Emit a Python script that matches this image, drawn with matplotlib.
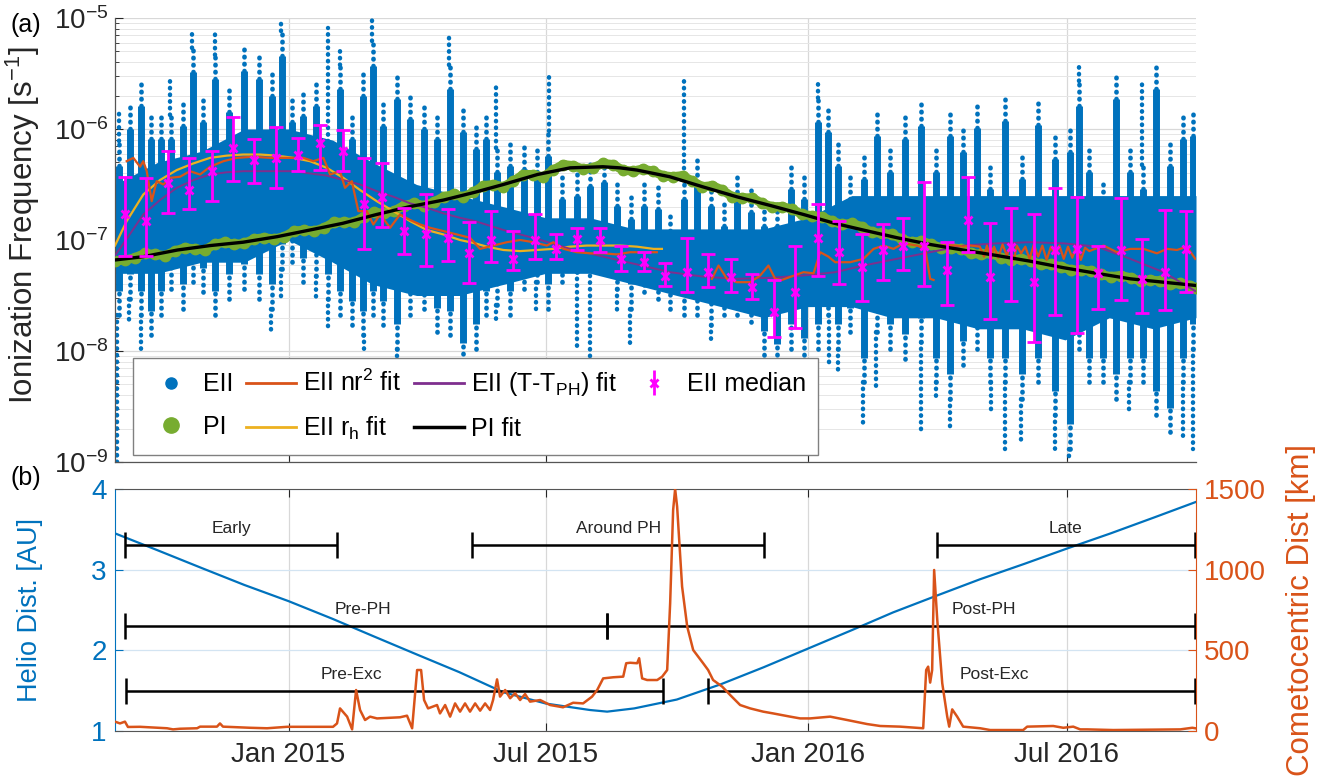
import numpy as np
import matplotlib
matplotlib.use('Agg')
import matplotlib.pyplot as plt
import matplotlib.dates as mdates
from matplotlib.lines import Line2D

plt.rcParams['font.family'] = ['Liberation Sans', 'DejaVu Sans']
plt.rcParams['mathtext.fontset'] = 'custom'
plt.rcParams['mathtext.rm'] = 'Liberation Sans'
plt.rcParams['mathtext.it'] = 'Liberation Sans:italic'
plt.rcParams['mathtext.bf'] = 'Liberation Sans:bold'
plt.rcParams['mathtext.default'] = 'regular'

# ---------------- data (days counted from 2014-09-01) ----------------
START = '2014-09-01'
X_END_DAY = 760

# EII cloud: dense core (monthly), log10 values
core_day = [0, 30, 61, 91, 122, 153, 181, 212, 242, 273, 303, 334, 365, 395, 426, 456,
            487, 518, 546, 577, 607, 638, 668, 699, 730, 760]
core_hi = [-6.5, -6.3, -6.2, -6.0, -6.0, -6.1, -6.3, -6.5, -6.6, -6.7, -6.8, -6.8, -6.9, -6.9,
           -6.9, -6.9, -6.8, -6.6, -6.6, -6.6, -6.6, -6.6, -6.6, -6.6, -6.6, -6.6]
core_lo = [-7.3, -7.3, -7.2, -7.2, -7.0, -7.2, -7.4, -7.5, -7.5, -7.4, -7.3, -7.3, -7.4, -7.5,
           -7.6, -7.7, -7.6, -7.6, -7.7, -7.7, -7.8, -7.8, -7.9, -7.7, -7.8, -7.7]

# EII cloud: spike columns (~9-day chunks), log10 top / bottom
chunk_day = [3, 10.5, 18.5, 25.5, 32.5, 39.5, 47.5, 54.5, 62, 70.5, 80, 90.5, 101, 110.5, 117.5,
             124.5, 132.5, 141.5, 150, 158.5, 166.5, 174.5, 181.5, 188.5, 198, 207.5, 217, 226.5,
             235.5, 245, 253.5, 260.5, 268.5, 278, 287.5, 296.5, 304.5, 314, 324.5, 334, 343.5,
             353, 362.5, 372, 381.5, 390.5, 400, 409.5, 419, 428.5, 437.5, 447, 456.5, 465.5,
             475, 484.5, 494, 501.5, 508, 517, 526.5, 535.5, 545, 555.5, 567, 577.5, 587, 596.5,
             606, 615.5, 626, 637.5, 649, 661, 671.5, 678, 685, 694.5, 704, 713.5, 722.5, 732,
             741.5, 751, 758]
chunk_top = [-6.11, -5.78, -5.57, -5.87, -5.87, -5.87, -5.75, -5.27, -5.72, -5.33, -5.63, -5.26,
             -5.33, -5.48, -5.12, -5.72, -5.66, -5.57, -6.17, -5.42, -5.87, -5.48, -5.21, -5.75,
             -5.51, -5.69, -5.78, -5.87, -5.42, -5.81, -5.96, -5.87, -6.17, -6.11, -6.14, -6.17,
             -6.02, -6.41, -6.38, -6.29, -6.26, -6.47, -6.59, -6.47, -6.50, -6.77, -6.41, -6.26,
             -6.47, -6.65, -6.41, -6.53, -6.65, -6.65, -6.32, -6.41, -5.72, -5.81, -6.11, -6.41,
             -6.23, -5.84, -6.17, -5.87, -5.75, -6.17, -5.84, -5.99, -5.77, -6.32, -5.71, -6.23,
             -5.74, -6.05, -5.99, -5.57, -6.17, -6.47, -5.51, -6.17, -6.32, -5.42, -6.11, -5.87,
             -5.84]
chunk_bot = [-7.68, -7.53, -7.68, -7.86, -7.68, -7.44, -7.62, -7.38, -7.47, -7.68, -7.53, -7.44,
             -7.53, -7.62, -7.26, -7.20, -7.38, -7.32, -7.53, -7.68, -7.77, -7.86, -7.68, -7.77,
             -7.98, -7.68, -7.62, -7.83, -7.86, -8.15, -7.98, -7.68, -7.59, -7.68, -7.44, -7.38,
             -7.62, -7.38, -7.29, -7.26, -7.26, -7.44, -7.62, -7.47, -7.53, -7.62, -7.68, -7.68,
             -7.77, -7.68, -7.68, -7.74, -8.04, -8.16, -7.98, -8.10, -7.98, -7.68, -7.98, -7.83,
             -8.28, -7.83, -7.98, -8.07, -7.92, -8.28, -8.43, -8.13, -7.98, -8.28, -8.28, -8.43,
             -8.28, -8.58, -8.88, -7.98, -8.28, -8.28, -8.43, -8.28, -8.28, -8.58, -8.73, -8.28,
             -7.98]

# EII cloud: sparse dotted columns (day, from, to), log10
sparse_up_day = [3, 39, 54, 70, 117, 150, 158, 181, 235, 268, 305, 400, 494, 678, 722]
sparse_up_from = [-6.11, -5.87, -5.27, -5.33, -5.12, -6.17, -5.42, -5.21, -5.42, -6.17, -6.02,
                  -6.41, -5.72, -5.57, -6.32]
sparse_up_to = [-5.81, -5.54, -5.09, -5.12, -5.03, -5.09, -5.27, -5.00, -5.15, -5.59, -5.52,
                -5.56, -5.55, -5.41, -5.59]
sparse_dn_day = [1.5, 10, 18, 110, 117, 141, 150, 175, 198, 268, 296, 325, 334, 353, 362, 419,
                 502, 508, 526, 535, 567, 577, 587, 616, 626, 637, 661, 671, 713, 751, 758]
sparse_dn_from = [-7.68, -7.53, -7.68, -7.62, -7.26, -7.32, -7.53, -7.86, -7.98, -7.59, -7.38,
                  -7.29, -7.26, -7.44, -7.62, -7.77, -7.68, -7.98, -8.28, -7.83, -7.92, -8.28,
                  -8.43, -8.28, -8.28, -8.43, -8.58, -8.88, -8.28, -8.28, -7.98]
sparse_dn_to = [-9.0, -7.74, -7.98, -7.83, -7.56, -7.56, -7.80, -7.98, -8.13, -7.74, -7.62,
                -7.98, -8.07, -7.68, -7.98, -7.89, -8.13, -8.22, -8.67, -8.34, -8.76, -8.43,
                -8.73, -8.58, -8.88, -8.82, -8.94, -9.0, -8.58, -8.82, -8.88]

# PI (photo-ionization), weekly, log10
pi_day = [0, 7, 14, 21, 28, 35, 42, 49, 56, 63, 70, 77, 84, 91, 98, 105, 112, 119, 126, 133,
          140, 147, 154, 161, 168, 175, 182, 189, 196, 203, 210, 217, 224, 231, 238, 245, 252,
          259, 266, 273, 280, 287, 294, 301, 308, 315, 322, 329, 336, 343, 350, 357, 364, 371,
          378, 385, 392, 399, 406, 413, 420, 427, 434, 441, 448, 455, 462, 469, 476, 483, 490,
          497, 504, 511, 518, 525, 532, 539, 546, 553, 560, 567, 574, 581, 588, 595, 602, 609,
          616, 623, 630, 637, 644, 651, 658, 665, 672, 679, 686, 693, 700, 707, 714, 721, 728,
          735, 742, 749, 756, 760]
pi_log = [-7.19, -7.18, -7.16, -7.12, -7.13, -7.14, -7.10, -7.07, -7.08, -7.09, -7.04, -7.02,
          -7.04, -7.03, -6.99, -6.98, -6.99, -6.97, -6.92, -6.91, -6.92, -6.89, -6.84, -6.84,
          -6.84, -6.79, -6.75, -6.76, -6.74, -6.69, -6.67, -6.69, -6.66, -6.61, -6.59, -6.61,
          -6.57, -6.51, -6.50, -6.52, -6.47, -6.41, -6.41, -6.43, -6.37, -6.32, -6.33, -6.36,
          -6.35, -6.31, -6.32, -6.37, -6.38, -6.36, -6.38, -6.42, -6.43, -6.42, -6.47, -6.52,
          -6.51, -6.55, -6.61, -6.62, -6.62, -6.67, -6.70, -6.70, -6.72, -6.77, -6.78, -6.79,
          -6.83, -6.86, -6.85, -6.88, -6.93, -6.94, -6.95, -6.99, -7.02, -7.01, -7.04, -7.07,
          -7.07, -7.08, -7.12, -7.13, -7.12, -7.16, -7.18, -7.17, -7.19, -7.22, -7.22, -7.24,
          -7.27, -7.27, -7.28, -7.31, -7.33, -7.32, -7.34, -7.37, -7.36, -7.37, -7.40, -7.39,
          -7.41, -7.43]

# PI fit, log10
pifit_day = [0, 20, 44, 67, 90, 114, 137, 160, 184, 207, 231, 253, 273, 297, 320, 343, 355,
             367, 390, 413, 437, 461, 484, 506, 526, 550, 573, 596, 620, 643, 667, 690, 714,
             737, 760]
pifit_log = [-7.18, -7.15, -7.09, -7.05, -7.02, -6.97, -6.91, -6.85, -6.77, -6.70, -6.64, -6.57,
             -6.50, -6.41, -6.35, -6.34, -6.35, -6.37, -6.43, -6.52, -6.61, -6.69, -6.77, -6.85,
             -6.91, -6.98, -7.04, -7.09, -7.14, -7.19, -7.25, -7.30, -7.35, -7.38, -7.41]

# EII r_h fit, log10
rh_day = [0, 8.2, 19.9, 31.6, 43.4, 55.1, 66.8, 78.5, 90.2, 102, 113.7, 125.4, 137.1, 148.9,
          160.5, 172.3, 184, 195.7, 207.5, 219.2, 230.9, 242.6, 253.2, 261.4, 273.1, 284.8,
          296.6, 308.2, 320, 331.7, 343.4, 355.1, 366.9, 378.6, 384.5]
rh_log = [-7.05, -6.83, -6.59, -6.46, -6.37, -6.31, -6.26, -6.24, -6.23, -6.23, -6.24, -6.26,
          -6.29, -6.35, -6.44, -6.55, -6.65, -6.74, -6.83, -6.91, -6.95, -7.00, -7.03, -7.06,
          -7.09, -7.10, -7.09, -7.08, -7.06, -7.05, -7.05, -7.05, -7.06, -7.08, -7.08]

# EII (T-T_PH) fit, log10
tph_day = [0, 8.2, 19.9, 31.6, 43.4, 55.1, 66.8, 78.5, 90.2, 102, 113.7, 125.4, 137.1, 148.9,
           160.5, 172.3, 184, 195.7, 207.5, 219.2, 230.9, 242.6, 253.2, 273.1, 296.6, 320,
           343.4, 366.9, 390.3, 413.7, 437.2, 460.6, 484, 506.3, 526.2, 549.6, 573.1, 596.6,
           620, 643.5, 667, 690.4, 713.8, 737.2, 759.5]
tph_log = [-7.14, -6.99, -6.77, -6.64, -6.53, -6.46, -6.41, -6.39, -6.38, -6.38, -6.38, -6.38,
           -6.40, -6.42, -6.46, -6.50, -6.56, -6.61, -6.67, -6.71, -6.76, -6.80, -6.83, -6.91,
           -6.99, -7.08, -7.15, -7.22, -7.29, -7.33, -7.35, -7.34, -7.32, -7.29, -7.23, -7.17,
           -7.11, -7.05, -7.03, -7.02, -7.03, -7.06, -7.17, -7.29, -7.46]

# EII n r^2 fit, log10 (nan = gap)
nr2_day = [8.2, 12.9, 17.6, 19.9, 22.3, 25.8, 29.3, 34.0, 38.7, 45.7, 52.7, 59.8, 66.8, 76.2,
           85.6, 97.3, 109, 120.7, 132.4, 139.5, 146.5, 151.2, 158.2, 161.7, 166.5, 171.1, 177,
           181.6, 186.4, 193.4, 200.4, 207.5, 214.5, 221.5, 230.9, 240.3, 249.6, 256.7, 266,
           275.5, 284.8, 294.2, 303.6, 308.2, 315.3, 324.7, 334, 343.4, 352.8, 362.2, 371.5,
           380.9, 400,
           419.6, 424.3, 430.2, 437.2, 446.6, 453.6, 459.4, 464.1, 468.8, 484, 491.1, 495.8,
           501.6, 506.3, 509.8, 516.9, 526.2, 533.3, 540.3, 547.3, 554.4, 563.8, 569.6, 573.1,
           575.5, 578,
           580.2, 591.9, 596.6, 601.3, 608, 611, 613, 616, 618, 621, 624, 627, 629, 632, 634,
           637, 640, 643, 646, 649, 652, 655, 658, 661, 664, 667, 670, 673, 676, 679, 682, 685,
           695, 704.4, 713.8, 723.1, 732.5, 739.6, 746.6, 753.6, 759.5]
nr2_log = [-6.29, -6.26, -6.34, -6.29, -6.38, -6.65, -6.47, -6.50, -6.44, -6.43, -6.38, -6.41,
           -6.34, -6.29, -6.26, -6.25, -6.26, -6.26, -6.26, -6.29, -6.26, -6.41, -6.38, -6.53,
           -6.47, -6.74, -6.74, -6.86, -6.77, -6.89, -6.77, -6.82, -6.86, -6.89, -6.92, -6.95,
           -6.98, -7.08, -7.05, -7.02, -7.00, -7.02, -7.05, -7.02, -7.08, -7.11, -7.12, -7.12,
           -7.13, -7.11, -7.11, -7.11, np.nan,
           -7.35, -7.23, -7.35, -7.38, -7.38, -7.32, -7.23, -7.35, -7.36, -7.29, -7.30, -7.11,
           -7.15, -7.20, -7.20, -7.20, -7.17, -7.08, -7.05, -7.08, -7.03, -7.05, -7.08, -7.35,
           -7.36, np.nan,
           -7.05, -7.05, -7.06, -7.05, -7.06, -7.15, -7.05, -7.17, -7.06, -7.16, -7.04, -7.14,
           -7.07, -7.18, -7.05, -7.12, -7.06, -7.17, -7.04, -7.15, -7.05, -7.18, -7.06, -7.14,
           -7.05, -7.17, -7.06, -7.16, -7.05, -7.18, -7.07, -7.10,
           -7.05, -7.11, -7.08, -7.08, -7.12, -7.08, -7.09, -7.06, -7.17]

# EII semi-monthly medians with spread, log10
med_date = ['2014-09-08', '2014-09-23', '2014-10-08', '2014-10-23', '2014-11-08', '2014-11-23',
            '2014-12-08', '2014-12-23', '2015-01-08', '2015-01-23', '2015-02-08', '2015-02-23',
            '2015-03-08', '2015-03-23', '2015-04-08', '2015-04-23', '2015-05-08', '2015-05-23',
            '2015-06-08', '2015-06-23', '2015-07-08', '2015-07-23', '2015-08-08', '2015-08-23',
            '2015-09-08', '2015-09-23', '2015-10-08', '2015-10-23', '2015-11-08', '2015-11-23',
            '2015-12-08', '2015-12-23', '2016-01-08', '2016-01-23', '2016-02-08', '2016-02-23',
            '2016-03-08', '2016-03-23', '2016-04-08', '2016-04-23', '2016-05-08', '2016-05-23',
            '2016-06-08', '2016-06-23', '2016-07-08', '2016-07-23', '2016-08-08', '2016-08-23',
            '2016-09-08', '2016-09-23']
med_c = [-6.77, -6.83, -6.49, -6.55, -6.38, -6.17, -6.28, -6.26, -6.23, -6.13, -6.20, -6.68,
         -6.61, -6.92, -6.95, -6.98, -7.12, -7.00, -7.17, -7.00, -7.08, -6.99, -7.00, -7.17,
         -7.20, -7.32, -7.29, -7.29, -7.33, -7.42, -7.65, -7.47, -6.98, -7.11, -7.24, -7.09,
         -7.05, -7.05, -7.27, -6.82, -7.33, -7.06, -7.38, -7.09, -7.08, -7.30, -7.09, -7.35,
         -7.29, -7.08]
med_hi = [-6.43, -6.44, -6.20, -6.26, -6.20, -5.89, -6.09, -5.98, -6.08, -5.96, -6.01, -6.26,
          -6.31, -6.71, -6.59, -6.72, -6.84, -6.74, -6.92, -6.77, -6.95, -6.89, -6.89, -7.05,
          -7.11, -7.21, -6.98, -7.13, -7.17, -7.31, -7.36, -7.05, -6.68, -6.83, -6.95, -6.86,
          -6.80, -6.48, -7.02, -6.43, -6.85, -6.71, -6.77, -6.53, -6.61, -7.05, -6.62, -6.99,
          -6.73, -6.74]
med_lo = [-7.14, -7.14, -6.76, -6.72, -6.65, -6.47, -6.49, -6.53, -6.38, -6.37, -6.38, -7.08,
          -6.88, -7.13, -7.23, -7.19, -7.39, -7.20, -7.27, -7.17, -7.17, -7.09, -7.11, -7.28,
          -7.28, -7.41, -7.47, -7.42, -7.47, -7.53, -7.87, -7.79, -7.32, -7.40, -7.55, -7.36,
          -7.27, -7.41, -7.59, -7.11, -7.71, -7.55, -7.92, -7.68, -7.84, -7.62, -7.54, -7.66,
          -7.63, -7.47]

# Panel (b): heliocentric distance [AU]
helio_day = [0, 30, 61, 91, 122, 153, 181, 212, 242, 273, 303, 334, 346, 365, 395, 426, 456,
             487, 518, 547, 578, 608, 639, 669, 700, 731, 760]
helio_au = [3.45, 3.24, 3.02, 2.81, 2.61, 2.39, 2.18, 1.95, 1.73, 1.48, 1.34, 1.26, 1.24, 1.28,
            1.39, 1.58, 1.79, 2.02, 2.25, 2.47, 2.68, 2.88, 3.07, 3.26, 3.45, 3.65, 3.84]

# Panel (b): cometocentric distance [km]
comet_day = [0, 3.5, 7.0, 9.1, 17.6, 36.6, 40.8, 45.7, 57.7, 59.8, 71.7, 73.8, 75.9, 94.9,
             106.9, 121.0, 153.3, 156.1, 158.2, 163.2, 166.7, 169.5, 172.3, 175.8, 179.3, 184.2,
             200.4, 205.3, 208.9, 212.4, 215.2, 217.3, 220.1, 226.4, 228.5, 232.1, 235.6, 239.1,
             242.6, 246.1, 249.6, 253.2, 256.7, 260.2, 263.7, 265.8, 268.6, 270.7, 274.3, 277.8,
             281.3, 284.8, 288.3, 291.8, 298.9, 305.9, 315.0, 322.1, 329.1, 335.4, 339.0, 343.2,
             350.2, 357.3, 359.4, 362.2, 367.1, 368.5, 370.6, 374.1, 381.2, 384.7, 388.2, 390.3,
             392.4, 393.8, 395.2, 398.7, 402.3, 406.5, 413.5, 417.0, 420.5, 426.9, 432.5, 439.5,
             446.6, 455.7, 462.7, 474.7, 481.7, 488.7, 502.8, 514.8, 528.8, 538.0, 552.0, 568.2,
             570.3, 571.7, 573.1, 574.5, 575.9, 578.1, 581.6, 585.1, 586.5, 588.6, 592.1, 596.3,
             608.3, 615.3, 638.5, 641.3, 659.6, 666.7, 673.7, 678.6, 683.5, 701.8, 748.9, 757.4,
             759.5]
comet_km = [58, 47, 58, 25, 26, 17, 10, 14, 17, 27, 27, 47, 27, 20, 17, 26, 26, 47, 140, 89, 10,
            254, 130, 68, 89, 78, 85, 95, 17, 378, 378, 192, 140, 161, 109, 161, 89, 171, 120,
            171, 120, 171, 126, 171, 130, 192, 320, 213, 254, 203, 234, 192, 229, 182, 192, 161,
            147, 175, 171, 213, 254, 326, 333, 337, 420, 423, 420, 451, 326, 316, 316, 337, 378,
            792, 1370, 1500, 1391, 895, 647, 502, 420, 378, 316, 275, 223, 161, 140, 120, 109,
            89, 78, 78, 89, 68, 43, 31, 27, 17, 378, 399, 300, 378, 998, 688, 296, 89, 27, 134,
            89, 27, 17, 6, 6, 27, 31, 20, 27, 10, 10, 6, 10, 20, 17]

# Panel (b): campaign intervals
period_names = ['Early', 'Around PH', 'Late', 'Pre-PH', 'Post-PH', 'Pre-Exc', 'Post-Exc']
period_start = ['2014-09-08', '2015-05-10', '2016-04-01', '2014-09-08', '2015-08-13',
                '2014-09-09', '2015-10-23']
period_end = ['2015-02-04', '2015-12-01', '2016-09-29', '2015-08-13', '2016-09-29',
              '2015-09-21', '2016-09-29']
period_level = [3.31, 3.31, 3.31, 2.30, 2.30, 1.50, 1.50]
period_label_date = ['2014-11-22', '2015-08-21', '2016-06-30', '2015-02-22', '2016-05-04',
                     '2015-02-14', '2016-05-11']

tick_dates = ['2015-01-01', '2015-07-01', '2016-01-01', '2016-07-01']
tick_labels = ['Jan 2015', 'Jul 2015', 'Jan 2016', 'Jul 2016']

# ---------------- helpers ----------------
T0 = mdates.date2num(np.datetime64(START))


def dnum(days):
    return T0 + np.asarray(days, dtype=float)


def snum(dates):
    return mdates.date2num(np.array(dates, dtype='datetime64[D]'))


def p10(v):
    return 10.0 ** np.asarray(v, dtype=float)


BLUE = '#0072BD'
ORANGE = '#D95319'
YELLOW = '#EDB120'
PURPLE = '#7E2F8E'
GREEN = '#77AC30'
MAG = '#FF00FF'
AXC = '#262626'
DOTS = [(0, (0.1, 1.4))]

fig = plt.figure(figsize=(13.34, 7.81), dpi=100)
W, H = 1334.0, 781.0
ax1 = fig.add_axes([115 / W, 1 - 462 / H, 1081 / W, 444 / H])
ax2 = fig.add_axes([115 / W, 1 - 731 / H, 1081 / W, 242 / H])

# ---------------- panel (a) ----------------
ax1.set_yscale('log')
ax1.fill_between(dnum(core_day), p10(core_lo), p10(core_hi), color=BLUE, lw=0, zorder=1.0)

# spike columns: solid body with dotted (sparser) tips at both ends
ctop = np.asarray(chunk_top)
cbot = np.asarray(chunk_bot)
tip = np.minimum(0.22, (ctop - cbot) / 4.0)
ax1.vlines(dnum(chunk_day), p10(cbot + tip), p10(ctop - tip), color=BLUE, lw=5.0, zorder=1.1)
lcs = [
    ax1.vlines(dnum(chunk_day), p10(ctop - tip), p10(ctop), color=BLUE, lw=3.4,
               linestyles=DOTS, zorder=1.1),
    ax1.vlines(dnum(chunk_day), p10(cbot), p10(cbot + tip), color=BLUE, lw=3.4,
               linestyles=DOTS, zorder=1.1),
    ax1.vlines(dnum(sparse_up_day), p10(sparse_up_from), p10(sparse_up_to), color=BLUE,
               lw=3.2, linestyles=DOTS, zorder=1.1),
    ax1.vlines(dnum(sparse_dn_day), p10(sparse_dn_from), p10(sparse_dn_to), color=BLUE,
               lw=3.2, linestyles=DOTS, zorder=1.1),
]
for lc in lcs:
    lc.set_capstyle('round')

ax1.plot(dnum(pi_day), p10(pi_log), color=GREEN, lw=6.5, marker='o', ms=7.5, mec=GREEN,
         solid_capstyle='round', zorder=3)
ax1.plot(dnum(rh_day), p10(rh_log), color=YELLOW, lw=1.6, zorder=4)
ax1.plot(dnum(tph_day), p10(tph_log), color=PURPLE, lw=1.4, zorder=4)
ax1.plot(dnum(nr2_day), p10(nr2_log), color=ORANGE, lw=1.6, zorder=4.2)
ax1.plot(dnum(pifit_day), p10(pifit_log), color='black', lw=2.4, zorder=4.5)

mc = p10(med_c)
ax1.errorbar(snum(med_date), mc, yerr=[mc - p10(med_lo), p10(med_hi) - mc], fmt='x',
             color=MAG, ecolor=MAG, elinewidth=2.0, capsize=5, capthick=2.0, ms=6, mew=2,
             zorder=6)

ax1.set_xlim(dnum(0), dnum(X_END_DAY))
ax1.set_ylim(1e-9, 1e-5)
ax1.set_xticks(snum(tick_dates))
ax1.set_xticklabels([])
ax1.tick_params(axis='both', which='both', direction='in', colors=AXC, labelsize=20)
ax1.tick_params(axis='both', which='major', length=6)
ax1.tick_params(axis='y', which='minor', length=3)
ax1.tick_params(axis='y', pad=5)
ax1.grid(True, which='major', axis='both', color='#d8d8d8', lw=0.9, zorder=0)
ax1.grid(True, which='minor', axis='y', color='#e6e6e6', lw=0.7, zorder=0)
ax1.set_axisbelow(True)
for s in ('top', 'right'):
    ax1.spines[s].set_visible(False)
for s in ('left', 'bottom'):
    ax1.spines[s].set_color('#555555')
    ax1.spines[s].set_linewidth(0.9)
ax1.set_ylabel('Ionization Frequency [s$^{-1}$]', fontsize=22.5, color=AXC)
ax1.yaxis.set_label_coords(-0.0675, 0.534)

handles = [
    Line2D([], [], ls='none', marker='o', ms=8, color=BLUE),
    Line2D([], [], ls='none', marker='o', ms=11, color=GREEN),
    Line2D([], [], color=ORANGE, lw=2),
    Line2D([], [], color=YELLOW, lw=2),
    Line2D([], [], color=PURPLE, lw=2),
    Line2D([], [], color='black', lw=2.5),
]
eb_handle = ax1.errorbar([], [], yerr=[[], []], fmt='x', color=MAG, ecolor=MAG, elinewidth=2,
                         capsize=5, capthick=2, ms=6, mew=2)
handles.append(eb_handle)
labels = ['EII', 'PI', 'EII nr$^2$ fit', 'EII r$_h$ fit', 'EII (T-T$_{PH}$) fit', 'PI fit',
          'EII median']
leg = ax1.legend(handles, labels, loc='lower left', bbox_to_anchor=(0.0167, 0.016, 0.634, 0.209),
                 mode='expand', ncol=4, fontsize=18, frameon=True, fancybox=False,
                 edgecolor='#808080', framealpha=1.0, handlelength=2.0, handletextpad=0.3,
                 columnspacing=0.4, labelspacing=0.75, borderaxespad=0.0, borderpad=0.5)
leg.get_frame().set_linewidth(1.0)
leg.set_zorder(10)

# ---------------- panel (b) ----------------
ax2.plot(dnum(helio_day), helio_au, color=BLUE, lw=1.6, zorder=3)
x0 = snum(period_start)
x1 = snum(period_end)
xc = (x0 + x1) / 2.0
ax2.errorbar(xc, period_level, xerr=(x1 - x0) / 2.0, fmt='none', ecolor='black', elinewidth=1.8,
             capsize=9.5, capthick=1.8, zorder=4)
for name, xd, lev in zip(period_names, snum(period_label_date), period_level):
    ax2.text(xd, lev + 0.11, name, ha='center', va='bottom', fontsize=12.5, color=AXC, zorder=5)

ax2.set_xlim(dnum(0), dnum(X_END_DAY))
ax2.set_ylim(1, 4)
ax2.set_yticks([1, 2, 3, 4])
ax2.set_xticks(snum(tick_dates))
ax2.set_xticklabels(tick_labels)
ax2.tick_params(axis='x', direction='in', length=6, top=True, colors=AXC, labelsize=20, pad=8)
ax2.tick_params(axis='y', direction='in', length=6, colors=BLUE, labelsize=20, pad=6)
ax2.xaxis.grid(True, color='#d8d8d8', lw=0.9)
ax2.yaxis.grid(True, color='#d3e4f2', lw=0.9)
ax2.set_axisbelow(True)
ax2.spines['left'].set_color(BLUE)
ax2.spines['top'].set_color('#555555')
ax2.spines['bottom'].set_color('#555555')
ax2.spines['right'].set_visible(False)
ax2.set_ylabel('Helio Dist. [AU]', fontsize=19.5, color=BLUE)
ax2.yaxis.set_label_coords(-0.0666, 0.5)

ax2r = ax2.twinx()
ax2r.plot(dnum(comet_day), comet_km, color=ORANGE, lw=1.8, zorder=3)
ax2r.set_ylim(0, 1500)
ax2r.set_yticks([0, 500, 1000, 1500])
ax2r.tick_params(axis='y', direction='in', length=6, colors=ORANGE, labelsize=20, pad=6)
ax2r.spines['right'].set_color(ORANGE)
for s in ('left', 'top', 'bottom'):
    ax2r.spines[s].set_visible(False)
ax2r.set_ylabel('Cometocentric Dist [km]', fontsize=22.5, color=ORANGE)
ax2r.yaxis.set_label_coords(1.083, 0.5)

fig.text(10 / W, 1 - 25 / H, '(a)', fontsize=18, color='black', va='center', ha='left')
fig.text(10 / W, 1 - 478 / H, '(b)', fontsize=18, color='black', va='center', ha='left')

fig.savefig('out.png', dpi=100)
